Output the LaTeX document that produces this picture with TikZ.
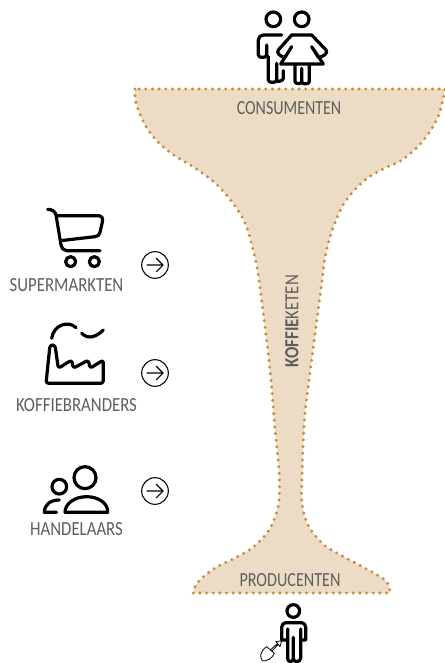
\documentclass[tikz,border=0pt]{standalone}
\usepackage{fontspec}
\setmainfont{Carlito}[FakeStretch=0.84]
\definecolor{funnelfill}{HTML}{EDDCC5}
\definecolor{funneldot}{HTML}{C68E3E}
\definecolor{labelgrey}{HTML}{5E5E5E}
\tikzset{
	label/.style={text=labelgrey, font=\fontsize{15}{15}\selectfont, inner sep=0pt},
	icon/.style={line width=2.4pt, line cap=round, line join=round},
	gocircle/.style={circle, draw, line width=0.8pt, minimum size=20pt, inner sep=0pt},
	goarrow/.style={line width=0.8pt, line cap=round, line join=round},
}
\begin{document}
\begin{tikzpicture}[x=0.75pt, y=-0.75pt]
	\useasboundingbox (0,0) rectangle (445,663);
	\draw[fill=funnelfill, draw=funneldot, line width=2.5pt, line cap=round, dash pattern=on 0pt off 5pt]
		(135,89) -- plot[smooth, tension=0.6] coordinates {(135,89) (136,103) (145,125) (158,142) (175,156) (192,166) (215,183) (232,202) (245,223) (253,250) (259,280) (270,370) (275,430) (279,470) (279,500) (275,517) (267,533) (252,548) (235,558) (215,568) (198,582) (193,593)}
		-- plot[smooth, tension=0.6] coordinates {(390,593) (387,582) (372,572) (335,552) (322,543) (308,525) (302,503) (302,477) (303,447) (305,413) (310,373) (323,273) (325,257) (333,228) (345,202) (365,180) (385,168) (402,160) (422,142) (438,117) (445,89)}
		-- cycle;
	\node[label, xscale=0.95] (consumenten) at (289,108) {CONSUMENTEN};
	\node[label, xscale=0.96] (producenten) at (290,580) {PRODUCENTEN};
	\node[label, rotate=90] (keten) at (292,321) {\textbf{KOFFIE}KETEN};
	\node[label] (supermarkten) at (66.5,285) {SUPERMARKTEN};
	\node[label] (branders) at (76.5,405) {KOFFIEBRANDERS};
	\node[label] (handelaars) at (76.5,529) {HANDELAARS};
	\foreach \name/\y in {gosuper/265, gobrand/373, gohandel/491} {
		\node[gocircle] (\name) at (155,\y) {};
		\draw[goarrow] ([xshift=-6pt]\name.center) -- ([xshift=6pt]\name.center)
			++(-5pt,-5pt) -- ++(5pt,5pt) -- ++(-5pt,5pt);
	}
	% consumenten
	\begin{scope}[shift={(230,0)}, scale=1/3, icon]
		\draw (130,58) circle (22);
		\draw (215,58) circle (22);
		\draw (155,105) -- (100,105) to[out=180,in=90] (85,120) -- (85,165) to[out=-90,in=-90] (110,165) -- (110,135);
		\draw (115,170) -- (115,240) to[out=-90,in=-90] (140,240) -- (140,190);
		\draw (140,240) to[out=-90,in=-90] (160,235) -- (160,212);
		\draw (185,105) -- (245,105) -- (288,150) to[out=-45,in=0] (265,172) -- (245,140) -- (280,192) -- (152,192) -- (185,140) -- (165,172) to[out=180,in=225] (145,150) -- cycle;
		\draw (195,195) -- (195,245) to[out=-90,in=-90] (215,245) -- (215,205);
		\draw (215,245) to[out=-90,in=-90] (238,245) -- (238,195);
	\end{scope}
	% supermarkten
	\begin{scope}[shift={(0,200)}, scale=1/3, icon]
		\draw (143,28) to[out=0,in=100] (168,45) -- (183,135) to[out=-80,in=180] (200,152) -- (300,152);
		\draw (172,47) -- (298,47) to[out=0,in=80] (308,62) -- (300,97) to[out=-100,in=0] (285,110) -- (182,122);
		\draw (212,185) circle (15);
		\draw (283,185) circle (15);
	\end{scope}
	% koffiebranders
	\begin{scope}[shift={(0,315)}, scale=1/3, icon]
		\draw[rounded corners=2pt] (150,90) -- (165,90) -- (175,160) -- (215,135) -- (220,160) -- (265,135) -- (270,160) -- (310,135) -- (310,205) -- (138,205) -- cycle;
		\draw (155,70) .. controls (160,30) and (205,15) .. (228,38);
		\draw (245,55) .. controls (265,75) and (290,65) .. (310,45);
	\end{scope}
	% handelaars
	\begin{scope}[shift={(15,455)}, scale=1/3, icon]
		\draw (210,68) circle (33);
		\draw (133,95) circle (22);
		\draw (150,172) .. controls (150,145) and (180,125) .. (215,125) .. controls (250,125) and (280,145) .. (278,172) -- cycle;
		\draw (133,135) .. controls (105,135) and (88,150) .. (88,172) -- (125,172);
	\end{scope}
	% producenten
	\begin{scope}[shift={(185,530)}, scale=1/3]
		\begin{scope}[icon]
			\draw (325,243) circle (19);
			\draw (308,330) -- (290,330) -- (290,292) to[out=90,in=180] (302,278) -- (350,278) to[out=0,in=90] (362,292) -- (362,330) -- (347,330);
			\draw (308,297) -- (308,385) to[out=-90,in=180] (316,395) to[out=0,in=-90] (325,385) -- (325,322);
			\draw (325,385) to[out=-90,in=180] (335,395) to[out=0,in=-90] (347,385) -- (347,297);
		\end{scope}
		\draw[line width=0.6pt, line join=round] (245,350) -- (268,370) .. controls (262,385) and (245,395) .. (232,392) .. controls (225,385) and (222,365) .. (245,350);
		\draw[line width=0.6pt, line join=round] (256,360) -- (278,340) -- (272,335) -- (290,332) -- (285,350) -- (280,343) -- (260,364);
	\end{scope}
\end{tikzpicture}
\end{document}
